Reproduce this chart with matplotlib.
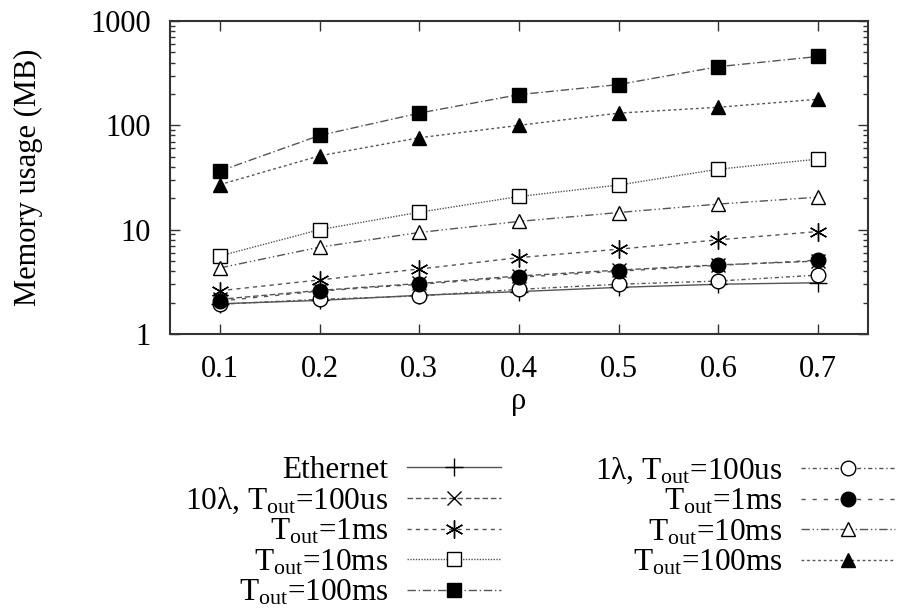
import matplotlib
matplotlib.use("Agg")
import matplotlib.pyplot as plt
from matplotlib.ticker import LogLocator, NullFormatter

plt.rcParams['font.family'] = ['Liberation Serif', 'DejaVu Serif']
plt.rcParams['mathtext.fontset'] = 'custom'
plt.rcParams['mathtext.rm'] = 'Liberation Serif'
plt.rcParams['mathtext.it'] = 'Liberation Serif:italic'

rho = [0.1, 0.2, 0.3, 0.4, 0.5, 0.6, 0.7]

ethernet      = [1.95, 2.1, 2.35, 2.55, 2.8, 3.0, 3.1]
l10_100us     = [2.15, 2.62, 3.05, 3.6, 4.1, 4.6, 5.0]
l10_1ms       = [2.6, 3.3, 4.2, 5.4, 6.5, 8.0, 9.6]
l10_10ms      = [5.6, 10.0, 14.7, 20.8, 26.8, 38.0, 47.5]
l10_100ms     = [36.5, 80, 131, 197, 246, 365, 457]
l1_100us      = [1.93, 2.15, 2.32, 2.68, 3.0, 3.22, 3.67]
l1_1ms        = [2.07, 2.58, 3.0, 3.5, 4.0, 4.55, 5.1]
l1_10ms       = [4.3, 6.8, 9.4, 12.0, 14.6, 17.6, 20.5]
l1_100ms      = [27, 51, 76, 100, 131, 149, 178]

labels_left = ["Ethernet",
               r"10λ, T$_{\mathrm{out}}$=100us",
               r"T$_{\mathrm{out}}$=1ms",
               r"T$_{\mathrm{out}}$=10ms",
               r"T$_{\mathrm{out}}$=100ms"]
labels_right = [r"1λ, T$_{\mathrm{out}}$=100us",
                r"T$_{\mathrm{out}}$=1ms",
                r"T$_{\mathrm{out}}$=10ms",
                r"T$_{\mathrm{out}}$=100ms"]

fig = plt.figure(figsize=(8.97, 6.12), dpi=100)
ax = fig.add_axes([0.1895, 0.4542, 0.7782, 0.5115])

lc = '#555555'
lw = 1.0
styles_left = [
    dict(ls='-', marker='+', ms=13, mfc='none'),
    dict(ls=(0, (4, 2)), marker='x', ms=10, mfc='none'),
    dict(ls=(0, (3, 3)), marker=(6, 2, 0), ms=13, mfc='none'),
    dict(ls=(0, (1, 1)), marker='s', ms=10.5, mfc='white'),
    dict(ls=(0, (6, 2, 1, 2)), marker='s', ms=10.5, mfc='black'),
]
styles_right = [
    dict(ls=(0, (3, 2, 1, 2)), marker='o', ms=10.5, mfc='white'),
    dict(ls=(0, (3, 5)), marker='o', ms=10.5, mfc='black'),
    dict(ls=(0, (6, 2, 1, 2, 1, 2)), marker='^', ms=10.5, mfc='white'),
    dict(ls=(0, (2, 2)), marker='^', ms=10.5, mfc='black'),
]
series_left = [ethernet, l10_100us, l10_1ms, l10_10ms, l10_100ms]
series_right = [l1_100us, l1_1ms, l1_10ms, l1_100ms]

hl = []
for y, st, lab in zip(series_left, styles_left, labels_left):
    h, = ax.plot(rho, y, color=lc, lw=lw, ls=st['ls'], marker=st['marker'],
                 ms=st['ms'], mfc=st['mfc'], mec='black', mew=1.0, label=lab)
    hl.append(h)
hr = []
for y, st, lab in zip(series_right, styles_right, labels_right):
    h, = ax.plot(rho, y, color=lc, lw=lw, ls=st['ls'], marker=st['marker'],
                 ms=st['ms'], mfc=st['mfc'], mec='black', mew=1.0, label=lab)
    hr.append(h)

ax.set_yscale('log')
ax.set_ylim(1, 1000)
ax.set_xlim(0.05, 0.75)
ax.set_xticks(rho)
ax.set_xticklabels(["0.1", "0.2", "0.3", "0.4", "0.5", "0.6", "0.7"])
ax.set_yticks([1, 10, 100, 1000])
ax.set_yticklabels(["1", "10", "100", "1000"])
ax.yaxis.set_minor_locator(LogLocator(base=10, subs=range(2, 10)))
ax.yaxis.set_minor_formatter(NullFormatter())
ax.tick_params(axis='both', which='major', direction='in', length=7, width=1,
               top=True, right=True, labelsize=22, color='#333333')
ax.tick_params(axis='y', which='minor', direction='in', length=3.5, width=1,
               right=True, color='#333333')
ax.tick_params(axis='x', which='major', pad=15)
ax.tick_params(axis='y', which='major', pad=14)
for sp in ax.spines.values():
    sp.set_linewidth(1.5)
    sp.set_color('#333333')

ax.set_ylabel("Memory usage (MB)", fontsize=22, labelpad=34)
ax.set_xlabel("ρ", fontsize=22, labelpad=2)

leg_kw = dict(frameon=False, markerfirst=False, fontsize=22.5, handlelength=3.0,
              handletextpad=0.6, labelspacing=0.03, borderpad=0, borderaxespad=0)
l1 = fig.legend(handles=hl, labels=labels_left, loc='upper right',
                bbox_to_anchor=(501/897, 1 - 456/612), **leg_kw)
l2 = fig.legend(handles=hr, labels=labels_right, loc='upper right',
                bbox_to_anchor=(895/897, 1 - 456/612), **leg_kw)

fig.savefig("out.png", dpi=100)
